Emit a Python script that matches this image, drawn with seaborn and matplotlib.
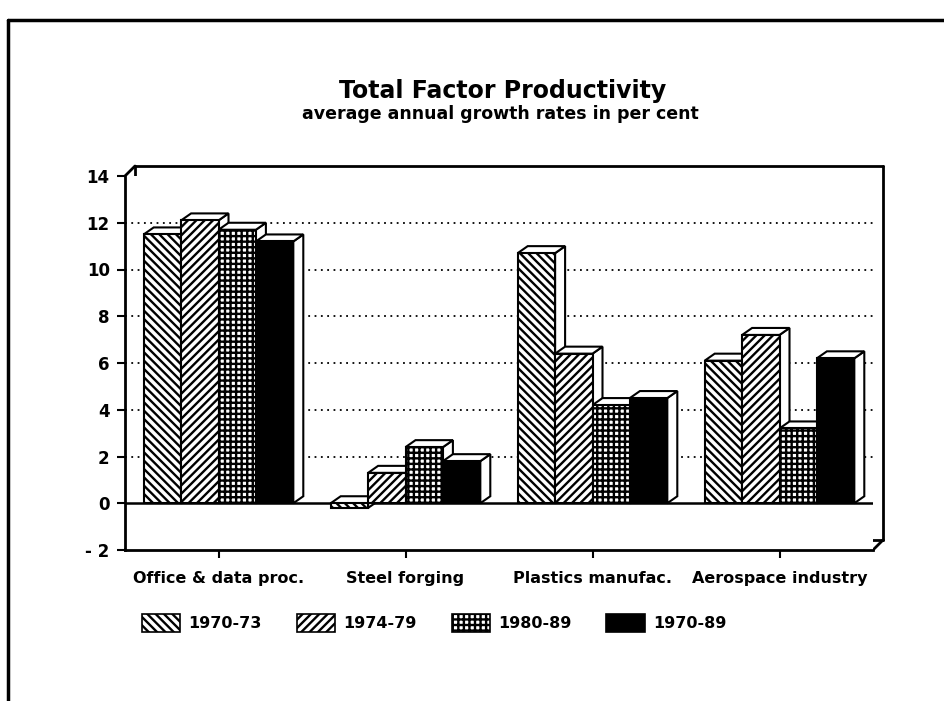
import pandas as pd
import matplotlib
matplotlib.use("Agg")
import matplotlib.pyplot as plt
import seaborn as sns
from matplotlib.patches import Polygon, Patch
from matplotlib.lines import Line2D
from matplotlib.transforms import IdentityTransform

# data
industries = ["Office & data proc.", "Steel forging", "Plastics manufac.", "Aerospace industry"]
periods = ["1970-73", "1974-79", "1980-89", "1970-89"]
g_1970_73 = [11.5, -0.2, 10.7, 6.1]
g_1974_79 = [12.1, 1.3, 6.4, 7.2]
g_1980_89 = [11.7, 2.4, 4.2, 3.2]
g_1970_89 = [11.2, 1.8, 4.5, 6.2]
y_ticks = [-2, 0, 2, 4, 6, 8, 10, 12, 14]
y_labels = ["- 2", "0", "2", "4", "6", "8", "10", "12", "14"]
grid_levels = [2, 4, 6, 8, 10, 12]

fills = ["white", "white", "white", "black"]
hatches = ["\\\\\\\\", "////", "+++", None]

rows = []
for period, vals in zip(periods, [g_1970_73, g_1974_79, g_1980_89, g_1970_89]):
    for ind, v in zip(industries, vals):
        rows.append({"industry": ind, "period": period, "growth": v})
df = pd.DataFrame(rows)

sns.set_theme(style="white")
plt.rcParams['font.family'] = ['DejaVu Sans']
plt.rcParams['font.weight'] = 'bold'
plt.rcParams['text.color'] = 'black'
plt.rcParams['xtick.color'] = 'black'
plt.rcParams['ytick.color'] = 'black'
plt.rcParams['hatch.linewidth'] = 1.7
plt.rcParams['hatch.color'] = 'black'

W, H = 944, 701
fig = plt.figure(figsize=(W / 100, H / 100), dpi=100)
L, R, T, B = 125, 873, 176, 550
ax = fig.add_axes([L / W, 1 - B / H, (R - L) / W, (B - T) / H])

sns.barplot(data=df, x="industry", y="growth", hue="period", order=industries,
            hue_order=periods, palette=fills, saturation=1, edgecolor="black",
            linewidth=1.5, width=0.8, errorbar=None, legend=False, ax=ax)

ax.set_xlim(-0.5, 3.5)
ax.set_ylim(-2, 14)
ax.set_yticks(y_ticks)
ax.set_yticklabels(y_labels, fontsize=12, fontweight="bold", color="black")
ax.set_xlabel("")
ax.set_ylabel("")
ax.tick_params(axis="y", left=True, length=6, width=1.5, pad=5, colors="black")
ax.tick_params(axis="x", bottom=True, length=6, width=1.5, pad=9, colors="black")
for lab in ax.get_xticklabels():
    lab.set_fontsize(11.5)
    lab.set_fontweight("bold")
    lab.set_color("black")
for s in ["top", "right"]:
    ax.spines[s].set_visible(False)
for s in ["left", "bottom"]:
    ax.spines[s].set_color("black")
    ax.spines[s].set_linewidth(2)

for lvl in grid_levels:
    ax.axhline(lvl, color="black", lw=1.3, ls=(0, (1, 2.5)), zorder=1)
ax.axhline(0, color="black", lw=1.8, zorder=2)

# hatches per period and fake 3d faces
bars = sorted(ax.patches, key=lambda p: p.get_x())
ident = IdentityTransform()
dx, dy = 10, 7
for i, p in enumerate(bars):
    k = i % 4
    p.set_hatch(hatches[k])
    z = 3 + i * 3
    p.set_zorder(z + 1)
    x0, w = p.get_x(), p.get_width()
    y0, h = p.get_y(), p.get_height()
    top, bot = max(y0, y0 + h), min(y0, y0 + h)
    xl, yb = ax.transData.transform((x0, bot))
    xr, yt = ax.transData.transform((x0 + w, top))
    top_face = [(xl, yt), (xr, yt), (xr + dx, yt + dy), (xl + dx, yt + dy)]
    side_face = [(xr, yb), (xr, yt), (xr + dx, yt + dy), (xr + dx, yb + dy)]
    for pts in (side_face, top_face):
        ax.add_patch(Polygon(pts, closed=True, facecolor="white", edgecolor="black",
                             lw=1.5, transform=ident, zorder=z, clip_on=False))

# back wall of the 3d box
wx, wy = 10, 10
pl, pr = L, R
pt, pb = H - T, H - B
box_lines = [
    ([pl + wx, pr + wx], [pt + wy, pt + wy]),
    ([pr + wx, pr + wx], [pt + wy, pb + wy]),
    ([pl + wx, pl + wx], [pt + wy, pb + wy]),
    ([pl + wx, pr + wx], [pb + wy, pb + wy]),
    ([pl, pl + wx], [pt, pt + wy]),
    ([pl, pl + wx], [pb, pb + wy]),
    ([pr, pr + wx], [pb, pb + wy]),
]
for xs, ys in box_lines:
    fig.add_artist(Line2D(xs, ys, color="black", lw=2, transform=ident, zorder=0))

# outer page frame
fig.add_artist(Line2D([8, W], [H - 20, H - 20], color="black", lw=2.5, transform=ident))
fig.add_artist(Line2D([8, 8], [0, H - 20], color="black", lw=2.5, transform=ident))

fig.text(503 / W, 1 - 91 / H, "Total Factor Productivity", ha="center", va="center",
         fontsize=17, fontweight="bold", color="black")
fig.text(500 / W, 1 - 114 / H, "average annual growth rates in per cent", ha="center",
         va="center", fontsize=12.5, fontweight="bold", color="black")

handles = [Patch(facecolor=f, edgecolor="black", hatch=hh, lw=1.2) for f, hh in zip(fills, hatches)]
fig.legend(handles, periods, loc="center", bbox_to_anchor=(434 / W, 1 - 623 / H), ncol=4,
           frameon=False, handlelength=2.4, handleheight=1.4, handletextpad=0.5,
           columnspacing=2.2, prop={"weight": "bold", "size": 11.5}, labelcolor="black")

fig.savefig("out.png", dpi=100)
